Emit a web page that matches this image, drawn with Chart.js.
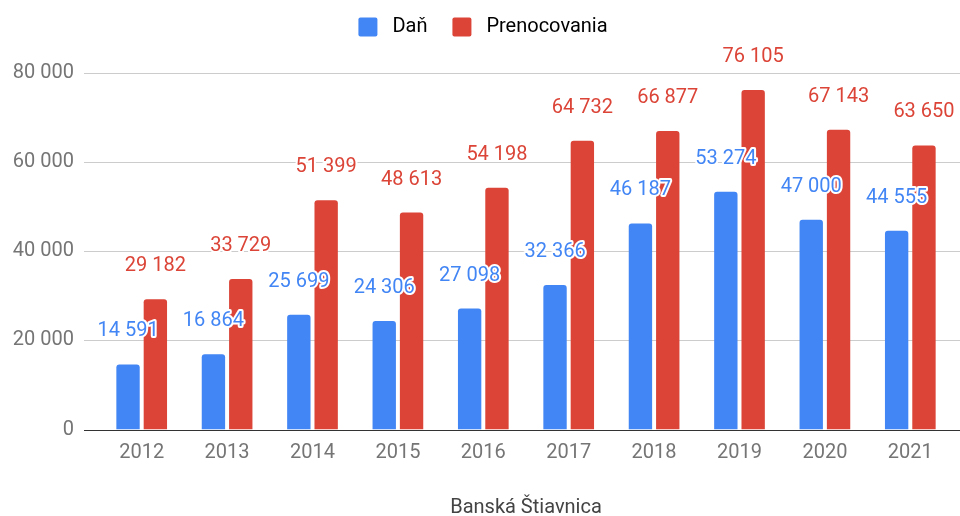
<!DOCTYPE html>
<html lang="sk">
<head>
<meta charset="utf-8">
<title>Banská Štiavnica</title>
<script src="https://cdn.jsdelivr.net/npm/chart.js@4.4.1/dist/chart.umd.min.js"></script>
<style>
    html, body { margin: 0; padding: 0; background: #ffffff; }
    #wrap { width: 960px; height: 516px; position: relative; }
</style>
</head>
<body>
<div id="wrap"><canvas id="taxChart"></canvas></div>
<script>
// ==========================================
// DATA
// ==========================================
const years = ['2012', '2013', '2014', '2015', '2016', '2017', '2018', '2019', '2020', '2021'];
const taxValues = [14591, 16864, 25699, 24306, 27098, 32366, 46187, 53274, 47000, 44555];
const stayValues = [29182, 33729, 51399, 48613, 54198, 64732, 66877, 76105, 67143, 63650];
const yTicks = [0, 20000, 40000, 60000, 80000];

const seriesNames = ['Daň', 'Prenocovania'];
const seriesColors = ['#4285F4', '#DB4437'];
const axisTitle = 'Banská Štiavnica';

const FONT = 'Roboto, "Noto Sans", Arial, sans-serif';

// 14591 -> "14 591"
function formatNumber(val) {
    return String(Math.round(val)).replace(/\B(?=(\d{3})+(?!\d))/g, ' ');
}

// ==========================================
// PLUGINS
// ==========================================
// Give the legend a fixed block height so the plot starts lower
const legendSpacer = {
    id: 'legendSpacer',
    beforeLayout(chart) {
        const legend = chart.legend;
        if (!legend || legend._spaced) return;
        const origFit = legend.fit;
        legend.fit = function () {
            origFit.call(this);
            this.height = 80.5;
        };
        legend._spaced = true;
    }
};

// Grid lines run a bit past the plot area, like the sheets chart
const wideGrid = {
    id: 'wideGrid',
    beforeDatasetsDraw(chart) {
        const { ctx, chartArea, scales } = chart;
        const left = chartArea.left - 15;
        const right = chart.width;
        ctx.save();
        yTicks.forEach(t => {
            const y = Math.round(scales.y.getPixelForValue(t)) + 0.5;
            ctx.strokeStyle = t === 0 ? '#333333' : '#cccccc';
            ctx.lineWidth = 1;
            ctx.beginPath();
            ctx.moveTo(left, y);
            ctx.lineTo(right, y);
            ctx.stroke();
        });
        ctx.restore();
    }
};

// Value labels above each bar, with a white halo
const valueLabels = {
    id: 'valueLabels',
    afterDatasetsDraw(chart) {
        const { ctx } = chart;
        ctx.save();
        ctx.font = '20px ' + FONT;
        ctx.textAlign = 'center';
        ctx.textBaseline = 'middle';
        ctx.lineJoin = 'round';
        [1, 0].forEach(di => {
            const meta = chart.getDatasetMeta(di);
            const data = chart.data.datasets[di].data;
            meta.data.forEach((bar, i) => {
                const text = formatNumber(data[i]);
                const y = bar.y - 33;
                ctx.strokeStyle = '#ffffff';
                ctx.lineWidth = 4;
                ctx.strokeText(text, bar.x, y);
                ctx.fillStyle = seriesColors[di];
                ctx.fillText(text, bar.x, y);
            });
        });
        ctx.restore();
    }
};

// ==========================================
// CHART
// ==========================================
function createTaxChart() {
    const ctx = document.getElementById('taxChart').getContext('2d');

    return new Chart(ctx, {
        type: 'bar',
        data: {
            labels: years,
            datasets: [
                {
                    label: seriesNames[0],
                    data: taxValues,
                    backgroundColor: seriesColors[0],
                    borderRadius: { topLeft: 3, topRight: 3 },
                    borderSkipped: 'start',
                    categoryPercentage: 0.64,
                    barPercentage: 0.855
                },
                {
                    label: seriesNames[1],
                    data: stayValues,
                    backgroundColor: seriesColors[1],
                    borderRadius: { topLeft: 3, topRight: 3 },
                    borderSkipped: 'start',
                    categoryPercentage: 0.64,
                    barPercentage: 0.855
                }
            ]
        },
        options: {
            responsive: true,
            maintainAspectRatio: false,
            animation: false,
            layout: {
                padding: { left: 13, right: 7, top: -8, bottom: 0 }
            },
            scales: {
                x: {
                    grid: { display: false, drawTicks: false },
                    border: { display: false },
                    ticks: {
                        color: '#757575',
                        padding: 11.5,
                        font: { family: FONT, size: 20 }
                    },
                    title: {
                        display: true,
                        text: axisTitle,
                        color: '#444444',
                        padding: { top: 21.5, bottom: -2 },
                        font: { family: FONT, size: 20, lineHeight: 1 }
                    }
                },
                y: {
                    min: 0,
                    max: 80000,
                    afterBuildTicks: axis => {
                        axis.ticks = yTicks.map(v => ({ value: v }));
                    },
                    afterFit: axis => {
                        axis.width = 86;
                    },
                    grid: { display: false, drawTicks: false },
                    border: { display: false },
                    ticks: {
                        color: '#757575',
                        padding: 25,
                        font: { family: FONT, size: 20 },
                        callback: val => formatNumber(val)
                    }
                }
            },
            plugins: {
                legend: {
                    position: 'top',
                    labels: {
                        boxWidth: 19,
                        boxHeight: 19,
                        padding: 25,
                        color: '#757575',
                        font: { family: FONT, size: 20 },
                        generateLabels: chart => chart.data.datasets.map((ds, i) => ({
                            text: ' ' + ds.label,
                            fillStyle: seriesColors[i],
                            strokeStyle: seriesColors[i],
                            lineWidth: 0,
                            borderRadius: 2,
                            datasetIndex: i,
                            hidden: false
                        }))
                    }
                },
                tooltip: { enabled: false }
            }
        },
        plugins: [legendSpacer, wideGrid, valueLabels]
    });
}

createTaxChart();
</script>
</body>
</html>
